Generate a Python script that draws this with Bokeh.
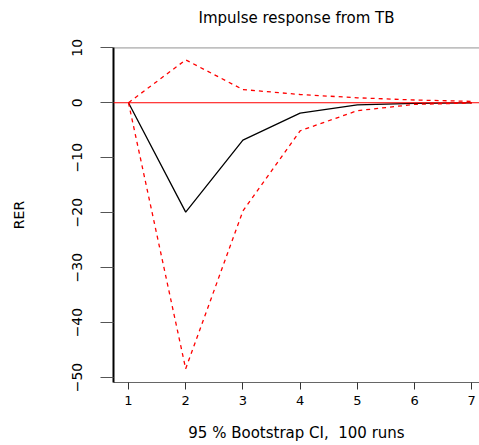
from bokeh.plotting import figure
from bokeh.models import Range1d, Span, FixedTicker
from bokeh.embed import file_html
from bokeh.resources import INLINE

# Data
horizon = [1, 2, 3, 4, 5, 6, 7]
irf = [0.0, -19.9, -6.8, -1.9, -0.4, -0.1, 0.0]
upper = [0.0, 7.8, 2.4, 1.5, 0.9, 0.5, 0.25]
lower = [0.0, -48.4, -19.7, -5.1, -1.45, -0.3, -0.05]
x_ticks = [1, 2, 3, 4, 5, 6, 7]
y_ticks = [-50, -40, -30, -20, -10, 0, 10]

FONT = "DejaVu Sans"

p = figure(width=479, height=445, output_backend="svg", toolbar_location=None,
           x_range=Range1d(0.738, 7.136), y_range=Range1d(-50.9, 10.05),
           min_border_left=113, min_border_right=0, min_border_top=47,
           min_border_bottom=63,
           title="Impulse response from TB")
p.outline_line_color = None
p.xgrid.visible = False
p.ygrid.visible = False
p.background_fill_color = "white"
p.border_fill_color = "white"

p.title.align = "center"
p.title.vertical_align = "bottom"
p.title.text_font = FONT
p.title.text_font_size = "15px"
p.title.text_font_style = "normal"
p.title.text_color = "black"
p.title.standoff = 0
p.title.padding = dict(top=0, bottom=21, left=0, right=0)

# reference lines
p.add_layout(Span(location=10, dimension="width", line_color="#555555", line_width=1))
p.add_layout(Span(location=0, dimension="width", line_color="red", line_width=1))

p.line(horizon, irf, line_color="black", line_width=1.3)
p.line(horizon, upper, line_color="red", line_width=1.3, line_dash="4 4")
p.line(horizon, lower, line_color="red", line_width=1.3, line_dash="4 4")

# x axis
xa = p.xaxis[0]
xa.ticker = FixedTicker(ticks=x_ticks)
xa.minor_tick_line_color = None
xa.major_tick_in = 0
xa.major_tick_out = 7
xa.major_tick_line_color = "#333333"
xa.axis_line_color = "#666666"
xa.major_label_standoff = 6
xa.major_label_text_font = FONT
xa.major_label_text_font_size = "13px"
xa.major_label_text_color = "black"
xa.axis_label = "95 % Bootstrap CI,\u00a0 100 runs"
xa.axis_label_text_font = FONT
xa.axis_label_text_font_size = "15px"
xa.axis_label_text_font_style = "normal"
xa.axis_label_text_color = "black"
xa.axis_label_standoff = 16

# y axis
ya = p.yaxis[0]
ya.ticker = FixedTicker(ticks=y_ticks)
ya.minor_tick_line_color = None
ya.major_tick_in = 0
ya.major_tick_out = 13
ya.major_tick_line_color = "#555555"
ya.axis_line_color = "black"
ya.axis_line_width = 2
ya.major_label_orientation = "vertical"
ya.major_label_standoff = 18
ya.major_label_text_font = FONT
ya.major_label_text_font_size = "14px"
ya.major_label_text_color = "black"
ya.axis_label = "RER"
ya.axis_label_text_font = FONT
ya.axis_label_text_font_size = "14px"
ya.axis_label_text_font_style = "normal"
ya.axis_label_text_color = "black"
ya.axis_label_standoff = 43

open("out.html", "w").write(file_html(p, INLINE))
